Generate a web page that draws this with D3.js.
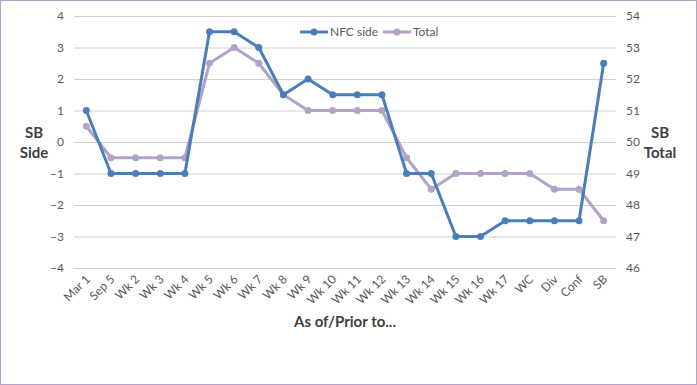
<!DOCTYPE html>
<html lang="en">
<head>
  <meta charset="UTF-8">
  <title>SB line</title>
  <script src="https://cdn.jsdelivr.net/npm/d3@7"></script>
  <style>
    body { margin: 0; background: #fff; }
    svg text { font-family: Lato, "Open Sans", sans-serif; }
    .tick text { fill: #595959; font-size: 12px; }
    .title { fill: #404040; font-size: 15px; font-weight: bold; }
  </style>
</head>
<body>
<div id="chart"></div>
<script>
  // categories and values
  var weeks = ["Mar 1", "Sep 5", "Wk 2", "Wk 3", "Wk 4", "Wk 5", "Wk 6", "Wk 7", "Wk 8", "Wk 9", "Wk 10",
               "Wk 11", "Wk 12", "Wk 13", "Wk 14", "Wk 15", "Wk 16", "Wk 17", "WC", "Div", "Conf", "SB"];
  var nfcSide = [1, -1, -1, -1, -1, 3.5, 3.5, 3, 1.5, 2, 1.5, 1.5, 1.5, -1, -1, -3, -3, -2.5, -2.5, -2.5, -2.5, 2.5];
  var total = [50.5, 49.5, 49.5, 49.5, 49.5, 52.5, 53, 52.5, 51.5, 51, 51, 51, 51, 49.5, 48.5, 49, 49, 49, 49, 48.5, 48.5, 47.5];
  var leftTicks = [-4, -3, -2, -1, 0, 1, 2, 3, 4];
  var rightTicks = [46, 47, 48, 49, 50, 51, 52, 53, 54];

  var W = 697, H = 385;
  var m = {top: 16, left: 74, right: 81, bottom: 117};

  var svg = d3.select("#chart").append("svg").attr("width", W).attr("height", H);
  svg.append("rect").attr("x", 0.5).attr("y", 0.5).attr("width", W - 1).attr("height", H - 1)
      .attr("fill", "#fff").attr("stroke", "#b3a2c7");

  var x = d3.scalePoint().domain(weeks).range([m.left, W - m.right]).padding(0.5);
  var yL = d3.scaleLinear().domain([-4, 4]).range([H - m.bottom, m.top]);
  var yR = d3.scaleLinear().domain([46, 54]).range([H - m.bottom, m.top]);

  // gridlines
  svg.append("g").selectAll("line").data(leftTicks).join("line")
      .attr("x1", m.left).attr("x2", W - m.right)
      .attr("y1", d => yL(d) + 0.5).attr("y2", d => yL(d) + 0.5)
      .attr("stroke", "#d0d0d0").attr("stroke-width", 1);

  var gL = svg.append("g").attr("transform", "translate(" + m.left + ",0)")
      .call(d3.axisLeft(yL).tickValues(leftTicks).tickSize(0).tickPadding(10));
  gL.select(".domain").remove();

  var gR = svg.append("g").attr("transform", "translate(" + (W - m.right) + ",0)")
      .call(d3.axisRight(yR).tickValues(rightTicks).tickSize(0).tickPadding(10));
  gR.select(".domain").remove();

  var gX = svg.append("g").attr("transform", "translate(0," + (H - m.bottom) + ")")
      .call(d3.axisBottom(x).tickSize(0).tickPadding(0));
  gX.select(".domain").remove();
  gX.selectAll(".tick text")
      .attr("text-anchor", "end")
      .attr("dy", 0)
      .attr("transform", "translate(4,12) rotate(-45)");

  function series(vals, y, color) {
    var pts = vals.map((v, i) => [x(weeks[i]), y(v)]);
    svg.append("path").attr("d", d3.line()(pts))
        .attr("fill", "none").attr("stroke", color).attr("stroke-width", 3)
        .attr("stroke-linejoin", "round");
    svg.append("g").selectAll("circle").data(pts).join("circle")
        .attr("cx", d => d[0]).attr("cy", d => d[1]).attr("r", 3.5).attr("fill", color);
  }
  series(total, yR, "#b3a2c7");
  series(nfcSide, yL, "#4a7ebb");

  // legend
  var legend = [["NFC side", "#4a7ebb", 300], ["Total", "#b3a2c7", 383]];
  legend.forEach(function(l) {
    var g = svg.append("g").attr("transform", "translate(" + l[2] + ",32)");
    g.append("line").attr("x1", 0).attr("x2", 28).attr("stroke", l[1]).attr("stroke-width", 3);
    g.append("circle").attr("cx", 14).attr("r", 3.5).attr("fill", l[1]);
    g.append("text").attr("x", 30).attr("dy", "0.35em").attr("fill", "#595959")
        .style("font-size", "12px").text(l[0]);
  });

  // axis titles
  svg.append("text").attr("class", "title").attr("x", 34).attr("y", 138).attr("text-anchor", "middle").text("SB");
  svg.append("text").attr("class", "title").attr("x", 34).attr("y", 158).attr("text-anchor", "middle").text("Side");
  svg.append("text").attr("class", "title").attr("x", 660).attr("y", 138).attr("text-anchor", "middle").text("SB");
  svg.append("text").attr("class", "title").attr("x", 660).attr("y", 158).attr("text-anchor", "middle").text("Total");
  svg.append("text").attr("class", "title").attr("x", 345).attr("y", 327).attr("text-anchor", "middle").text("As of/Prior to...");
</script>
</body>
</html>
